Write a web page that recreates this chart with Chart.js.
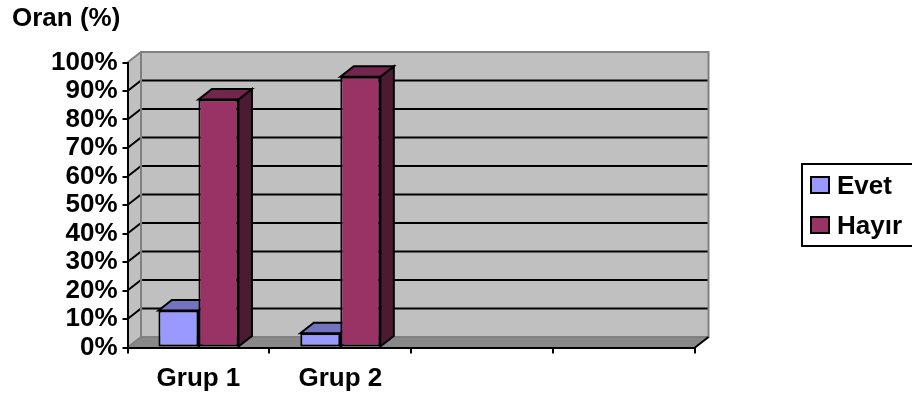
<!DOCTYPE html>
<html>
<head>
<meta charset="utf-8">
<script src="https://cdn.jsdelivr.net/npm/chart.js@4.4.1/dist/chart.umd.min.js"></script>
<style>
  html, body { margin: 0; padding: 0; background: #fff; }
  #wrap { position: relative; width: 912px; height: 399px; }
</style>
</head>
<body>
<div id="wrap"><canvas id="chart"></canvas></div>
<script>
// Groups on the x axis (the last two slots stay empty)
const categories = ['Grup 1', 'Grup 2', '', ''];
const seriesNames = ['Evet', 'Hayır'];
const evetValues = [13, 5, null, null];
const hayirValues = [87, 95, null, null];
const axisTitle = 'Oran (%)';

// Front / top / side shading of each column
const faceColors = {
  'Evet': { front: '#9999ff', top: '#7373c0', side: '#4c4c80' },
  'Hayır': { front: '#993366', top: '#73264d', side: '#4d1a33' }
};

// Offset of the back plane relative to the front plane
const depth = { x: 13.5, y: -10.5 };
const FONT = 'bold 26px "Liberation Sans", Arial, sans-serif';

function poly(ctx, pts, fill, stroke, lw) {
    ctx.beginPath();
    ctx.moveTo(pts[0][0], pts[0][1]);
    for (let i = 1; i < pts.length; i++) ctx.lineTo(pts[i][0], pts[i][1]);
    ctx.closePath();
    if (fill) { ctx.fillStyle = fill; ctx.fill(); }
    if (stroke) { ctx.strokeStyle = stroke; ctx.lineWidth = lw || 2; ctx.stroke(); }
}

function line(ctx, x1, y1, x2, y2, color, lw) {
    ctx.beginPath();
    ctx.moveTo(x1, y1);
    ctx.lineTo(x2, y2);
    ctx.strokeStyle = color;
    ctx.lineWidth = lw || 2;
    ctx.stroke();
}

/**
 * Walls, floor, back gridlines, column depth faces, title and legend box.
 */
const box3d = {
    id: 'box3d',
    beforeDraw(chart) {
        const { ctx, chartArea: a, scales: { y } } = chart;
        const dx = depth.x, dy = depth.y;
        ctx.save();
        ctx.fillStyle = '#ffffff';
        ctx.fillRect(0, 0, chart.width, chart.height);

        // back wall + left wall
        ctx.fillStyle = '#c0c0c0';
        ctx.fillRect(a.left + dx, a.top + dy, a.width, a.height);
        poly(ctx, [[a.left, a.top], [a.left + dx, a.top + dy], [a.left + dx, a.bottom + dy], [a.left, a.bottom]], '#c0c0c0');

        // floor
        poly(ctx, [[a.left, a.bottom], [a.left + dx, a.bottom + dy], [a.right + dx, a.bottom + dy], [a.right, a.bottom]], '#888888');

        // gridlines on the back wall, diagonals across the side wall
        y.ticks.forEach(t => {
            const py = y.getPixelForValue(t.value);
            const edge = t.value === y.min || t.value === y.max;
            if (!edge) line(ctx, a.left + dx, py + dy, a.right + dx, py + dy, '#000', 2);
            line(ctx, a.left, py, a.left + dx, py + dy, edge ? '#808080' : '#000', 2);
        });

        ctx.strokeStyle = '#808080';
        ctx.lineWidth = 2;
        ctx.strokeRect(a.left + dx, a.top + dy, a.width, a.height);
        line(ctx, a.right, a.bottom, a.right + dx, a.bottom + dy, '#000', 2);
        ctx.restore();
    },
    beforeDatasetsDraw(chart) {
        const { ctx } = chart;
        const dx = depth.x, dy = depth.y;
        ctx.save();
        ctx.lineJoin = 'miter';
        chart.data.datasets.forEach((ds, i) => {
            const c = faceColors[ds.label];
            chart.getDatasetMeta(i).data.forEach((bar, j) => {
                if (ds.data[j] == null) return;
                const { x, y, base, width } = bar.getProps(['x', 'y', 'base', 'width'], true);
                const l = x - width / 2, r = x + width / 2;
                poly(ctx, [[r, y], [r + dx, y + dy], [r + dx, base + dy], [r, base]], c.side, '#000', 2);
                poly(ctx, [[l, y], [l + dx, y + dy], [r + dx, y + dy], [r, y]], c.top, '#000', 2);
            });
        });
        ctx.restore();
    },
    afterDraw(chart) {
        const { ctx } = chart;
        ctx.save();
        ctx.font = FONT;
        ctx.fillStyle = '#000';
        ctx.textBaseline = 'alphabetic';
        ctx.textAlign = 'left';
        ctx.fillText(axisTitle, 12, 25.5);

        // legend
        ctx.lineWidth = 2;
        ctx.strokeStyle = '#000';
        ctx.strokeRect(802, 164, 120, 82);
        chart.data.datasets.forEach((ds, i) => {
            const top = 177 + i * 40;
            ctx.fillStyle = ds.backgroundColor;
            ctx.fillRect(811, top, 18, 16);
            ctx.strokeRect(811, top, 18, 16);
            ctx.fillStyle = '#000';
            ctx.fillText(ds.label, 837, top + 17);
        });
        ctx.restore();
    }
};

const tickFont = { family: '"Liberation Sans", Arial, sans-serif', size: 26, weight: 'bold' };

new Chart(document.getElementById('chart').getContext('2d'), {
    type: 'bar',
    data: {
        labels: categories,
        datasets: [
            {
                label: seriesNames[0],
                data: evetValues,
                backgroundColor: faceColors['Evet'].front
            },
            {
                label: seriesNames[1],
                data: hayirValues,
                backgroundColor: faceColors['Hayır'].front
            }
        ]
    },
    options: {
        responsive: true,
        maintainAspectRatio: false,
        animation: false,
        events: [],
        layout: { padding: { top: 62.5, right: 217, left: 0, bottom: 0 } },
        datasets: {
            bar: {
                categoryPercentage: 0.564,
                barPercentage: 1,
                borderColor: '#000',
                borderWidth: 2,
                borderSkipped: false
            }
        },
        plugins: {
            legend: { display: false },
            title: { display: false },
            tooltip: { enabled: false }
        },
        scales: {
            x: {
                afterFit(scale) { scale.height = 51.5; },
                grid: {
                    drawOnChartArea: false,
                    drawTicks: true,
                    tickLength: 6,
                    color: '#000',
                    lineWidth: 2
                },
                border: { display: true, color: '#000', width: 2 },
                ticks: { color: '#000', font: tickFont, padding: 10, maxRotation: 0, autoSkip: false }
            },
            y: {
                min: 0,
                max: 100,
                afterFit(scale) { scale.width = 127.5; },
                grid: {
                    drawOnChartArea: false,
                    drawTicks: true,
                    tickLength: 5,
                    color: '#000',
                    lineWidth: 2
                },
                border: { display: true, color: '#000', width: 2 },
                ticks: {
                    stepSize: 10,
                    autoSkip: false,
                    color: '#000',
                    font: tickFont,
                    padding: 5,
                    callback: v => v + '%'
                }
            }
        }
    },
    plugins: [box3d]
});
</script>
</body>
</html>
